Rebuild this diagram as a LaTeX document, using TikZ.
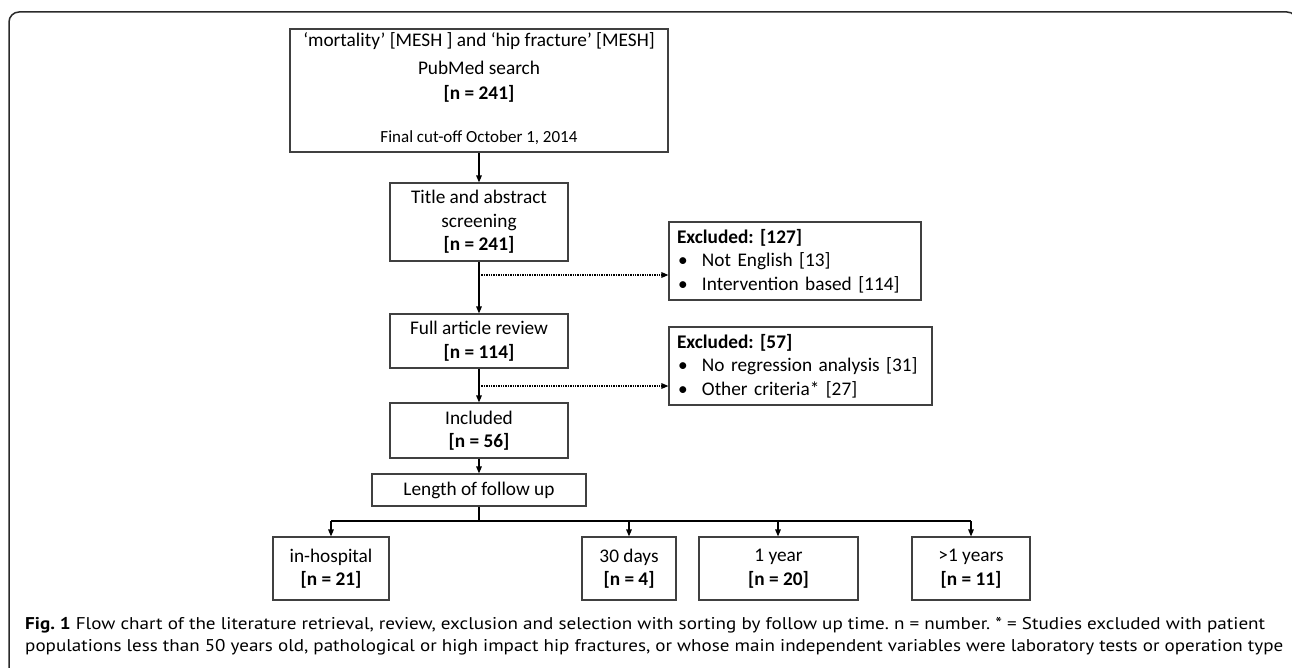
\documentclass[tikz,border=0pt]{standalone}
\usepackage{fontspec}
\setmainfont{Carlito}
\newfontfamily\capfont{PT Sans}
\usetikzlibrary{arrows.meta}
\frenchspacing
\definecolor{boxc}{HTML}{404040}
\definecolor{framec}{HTML}{2A2A2A}
\newcommand\mainsz{\fontsize{19.3}{23.5}\selectfont}
\newcommand\capsz{\fontsize{17}{22}\capfont\frenchspacing}
\newsavebox\capbox
\newcommand\capline[2]{\sbox\capbox{\capsz #2}\resizebox{#1}{\ht\capbox}{\usebox\capbox}}
\begin{document}
\begin{tikzpicture}[x=1pt,y=-1pt,
  box/.style={draw=boxc, line width=1.1pt, inner sep=0pt, align=center, font=\mainsz},
  txt/.style={anchor=base, inner sep=0pt, font=\mainsz},
  arr/.style={line width=1.4pt, -{Triangle[length=7pt,width=5.5pt]}},
  dotarr/.style={line width=1.3pt, dash pattern=on 1.3pt off 1.1pt, -{Triangle[length=7pt,width=5.5pt]}},
  line/.style={line width=1.4pt}]
\useasboundingbox (0,0) rectangle (1292,668);
% frame
\draw[framec, line width=1.5pt, rounded corners=10pt] (9,700) -- (9,12) -- (1297,12) -- (1297,700);
% top box
\node[box, minimum width=378pt, minimum height=123pt] (search) at (479,90.5) {};
\node[txt] (s1) at (479,46.7) {‘mortality’ [MESH ] and ‘hip fracture’ [MESH]};
\node[txt] (s2) at (479,75) {PubMed search};
\node[txt, font=\mainsz\bfseries] (s3) at (479,100) {[n = 241]};
\node[txt, font=\fontsize{17}{20}\selectfont] (s4) at (479,143) {Final cut-off October 1, 2014};
% main column
\node[box, minimum width=178pt, minimum height=78pt] (screen) at (479,222) {Title and abstract\\screening\\\textbf{[n = 241]}};
\node[box, minimum width=178pt, minimum height=54pt] (review) at (479,341) {Full article review\\\textbf{[n = 114]}};
\node[box, minimum width=178pt, minimum height=55pt] (incl) at (479,430.5) {Included\\\textbf{[n = 56]}};
\node[box, minimum width=214pt, minimum height=32pt] (len) at (479,490) {Length of follow up};
% excluded boxes
\node[box, text width=236pt, inner xsep=8pt, minimum height=78pt, align=left] (exc1) at (795,261)
  {\textbf{Excluded: [127]}\\\makebox[25pt][l]{\hspace{1pt}•}Not English [13]\\\makebox[25pt][l]{\hspace{1pt}•}Intervention based [114]};
\node[box, text width=247pt, inner xsep=8pt, minimum height=78pt, align=left] (exc2) at (800.5,366)
  {\textbf{Excluded: [57]}\\\makebox[25pt][l]{\hspace{1pt}•}No regression analysis [31]\\\makebox[25pt][l]{\hspace{1pt}•}Other criteria* [27]};
% bottom boxes
\node[box, minimum width=116pt, minimum height=63pt] (ih) at (331,568.5) {in-hospital\\\textbf{[n = 21]}};
\node[box, minimum width=94pt, minimum height=63pt] (d30) at (629,568.5) {30 days\\\textbf{[n = 4]}};
\node[box, minimum width=159pt, minimum height=63pt] (y1) at (778.5,568.5) {1 year\\\textbf{[n = 20]}};
\node[box, minimum width=118pt, minimum height=63pt] (gt1) at (971,568.5) {>1 years\\\textbf{[n = 11]}};
% connectors
\draw[arr] (search) -- (screen);
\draw[arr] (screen) -- (review);
\draw[arr] (review) -- (incl);
\draw[arr] (incl) -- (len);
\coordinate (d1) at (479,275);
\coordinate (d2) at (479,386);
\draw[dotarr] (d1) -- (d1 -| exc1.west);
\draw[dotarr] (d2) -- (d2 -| exc2.west);
\coordinate (bar) at (479,521);
\coordinate (t1) at (331,521);
\coordinate (t2) at (629,521);
\coordinate (t3) at (778,521);
\coordinate (t4) at (971,521);
\draw[line] (len.south) -- (bar);
\draw[line] (t1) -- (t4);
\draw[arr] (t1) -- (t1 |- ih.north);
\draw[arr] (t2) -- (t2 |- d30.north);
\draw[arr] (t3) -- (t3 |- y1.north);
\draw[arr] (t4) -- (t4 |- gt1.north);
% caption
\node[anchor=base west, inner sep=0pt] (cap1) at (25,629)
  {\capline{1240pt}{\textbf{Fig. 1} Flow chart of the literature retrieval, review, exclusion and selection with sorting by follow up time. n = number. * = Studies excluded with patient}};
\node[anchor=base west, inner sep=0pt] (cap2) at (25,651)
  {\capline{1258pt}{populations less than 50 years old, pathological or high impact hip fractures, or whose main independent variables were laboratory tests or operation type}};
\end{tikzpicture}
\end{document}
